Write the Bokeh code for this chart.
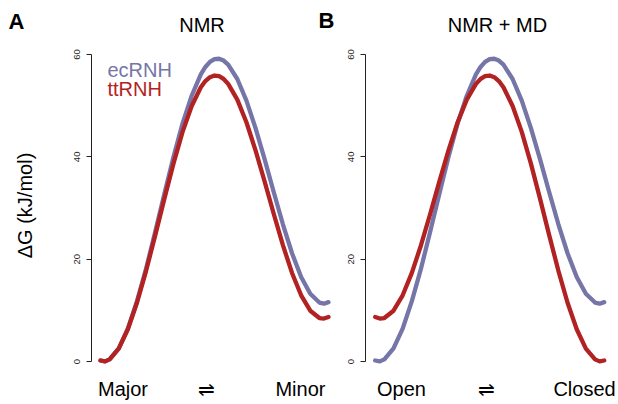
import math
from bokeh.plotting import figure
from bokeh.layouts import row
from bokeh.models import Range1d, FixedTicker
from bokeh.core.properties import value
from bokeh.embed import file_html
from bokeh.resources import INLINE

# reaction coordinate (0 = left state, 1 = right state)
coord = [0.00, 0.02, 0.04, 0.08, 0.12, 0.16, 0.20, 0.24, 0.28, 0.32, 0.36, 0.40, 0.44,
         0.46, 0.48, 0.50, 0.52, 0.54,
         0.56, 0.60, 0.64, 0.68, 0.72, 0.76, 0.80, 0.84, 0.88, 0.92, 0.96, 0.98, 1.00]

# Panel A: NMR (Major -> Minor), kJ/mol
ec_nmr = [0.2, 0.03, 0.42, 2.58, 6.44, 11.79, 18.16, 25.34, 32.76, 39.97, 46.53, 51.94, 56.12,
          57.56, 58.56, 59.10, 59.17, 58.81,
          58.01, 55.21, 50.98, 45.60, 39.50, 33.08, 26.82, 21.16, 16.52, 13.23, 11.52, 11.3, 11.6]
tt_nmr = [0.2, 0.03, 0.42, 2.53, 6.30, 11.48, 17.73, 24.65, 31.78, 38.67, 44.88, 49.94, 53.59,
          54.80, 55.57, 55.89, 55.76, 55.22,
          54.26, 51.18, 46.75, 41.27, 35.15, 28.83, 22.73, 17.31, 12.94, 9.93, 8.50, 8.4, 8.7]

# Panel B: NMR + MD (Open -> Closed), kJ/mol
ec_md = [0.2, 0.03, 0.42, 2.58, 6.44, 11.79, 18.16, 25.34, 32.76, 39.97, 46.53, 51.94, 56.12,
         57.56, 58.56, 59.10, 59.17, 58.81,
         58.01, 55.21, 50.98, 45.60, 39.50, 33.08, 26.82, 21.16, 16.52, 13.23, 11.52, 11.3, 11.6]
tt_md = [8.7, 8.4, 8.50, 9.93, 12.94, 17.31, 22.73, 28.83, 35.15, 41.27, 46.75, 51.18, 54.26,
         55.22, 55.76, 55.89, 55.57, 54.80,
         53.59, 49.94, 44.88, 38.67, 31.78, 24.65, 17.73, 11.48, 6.30, 2.53, 0.42, 0.03, 0.2]

y_ticks = [0, 20, 40, 60]
series_names = ["ecRNH", "ttRNH"]
panel_titles = ["NMR", "NMR + MD"]
panel_letters = ["A", "B"]
x_labels_nmr = ["Major", "\u21cc", "Minor"]
x_labels_md = ["Open", "\u21cc", "Closed"]
y_label = "\u0394G (kJ/mol)"

FONT = "Liberation Sans"
BLUE = "#7575A8"
RED = "#B22222"
H = 404
Y_RANGE = (-8.40, 70.55)


def base_fig(width, bl, xr, yr):
    p = figure(width=width, height=H, x_range=Range1d(*xr), y_range=Range1d(*yr),
               output_backend="svg", toolbar_location=None,
               min_border_left=bl, min_border_right=0, min_border_top=0, min_border_bottom=0)
    p.grid.visible = False
    p.outline_line_color = None
    p.background_fill_color = "white"
    p.border_fill_color = "white"
    return p


def panel_fig(width, xr):
    p = base_fig(width, 26, xr, Y_RANGE)
    p.xaxis.visible = False
    ax = p.yaxis[0]
    ax.ticker = FixedTicker(ticks=y_ticks)
    ax.bounds = (0, 60)
    ax.minor_tick_line_color = None
    ax.major_tick_in = 0
    ax.major_tick_out = 5
    ax.axis_line_color = "#222222"
    ax.major_tick_line_color = "#222222"
    ax.major_label_orientation = "vertical"
    ax.major_label_text_font = FONT
    ax.major_label_text_font_size = "9.5px"
    ax.major_label_text_color = "#222222"
    ax.major_label_standoff = 6
    return p


def txt(p, x, y, texts, size, color="black", align="center", style="normal", angle=0.0,
        baseline="alphabetic"):
    p.text(x=x, y=y, text=texts, text_font=value(FONT), text_font_size=size,
           text_color=color, text_align=align, text_baseline=baseline,
           text_font_style=style, angle=angle)


# narrow figure holding the panel letter and the y label
p0 = base_fig(65, 0, (0, 65), (H, 0))
p0.axis.visible = False
txt(p0, [8], [20.5], [panel_letters[0]], "22px", align="left", style="bold")
txt(p0, [24], [205], [y_label], "20px", angle=math.pi / 2, baseline="middle")

# left panel (NMR)
p1 = panel_fig(274, (-0.03947, 1.04825))
p1.line(coord, ec_nmr, line_color=BLUE, line_width=4.3, line_cap="round", line_join="round")
p1.line(coord, tt_nmr, line_color=RED, line_width=4.3, line_cap="round", line_join="round")
txt(p1, [0.956], [66.55], [panel_letters[1]], "22px", align="left", style="bold")
txt(p1, [0.445], [65.76], [panel_titles[0]], "20px")
txt(p1, [0.0307], [56.97], [series_names[0]], "20px", color=BLUE, align="left")
txt(p1, [0.0307], [53.31], [series_names[1]], "20px", color=RED, align="left")
txt(p1, [0.0987, 0.467, 0.877], [-5.38] * 3, x_labels_nmr, "20px")

# right panel (NMR + MD)
p2 = panel_fig(279, (-0.04236, 1.06245))
p2.line(coord, ec_md, line_color=BLUE, line_width=4.3, line_cap="round", line_join="round")
p2.line(coord, tt_md, line_color=RED, line_width=4.3, line_cap="round", line_join="round")
txt(p2, [0.534], [65.76], [panel_titles[1]], "20px")
txt(p2, [0.1148, 0.486, 0.914], [-5.38] * 3, x_labels_md, "20px")

layout = row(p0, p1, p2)
open("out.html", "w").write(file_html(layout, INLINE))
